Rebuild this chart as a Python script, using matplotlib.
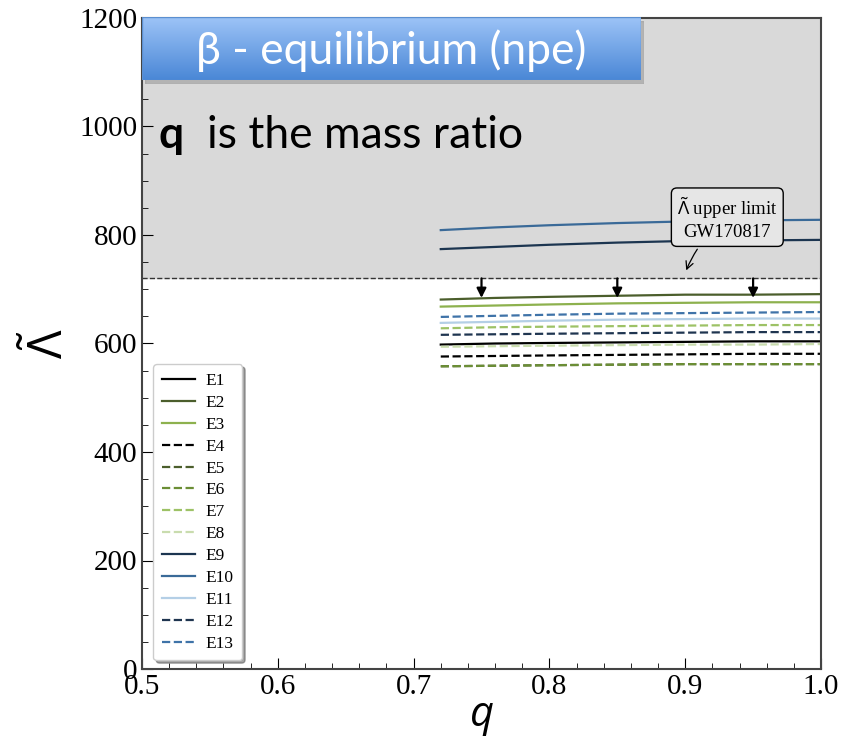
import matplotlib.pyplot as plt
import numpy as np
from matplotlib.patches import Rectangle

plt.rcParams['font.family'] = ['Liberation Serif', 'DejaVu Serif']
plt.rcParams['mathtext.fontset'] = 'custom'
plt.rcParams['mathtext.rm'] = 'Open Sans'
plt.rcParams['mathtext.it'] = 'Open Sans:italic'

# mass ratio grid and tidal deformability per EoS
q = [0.72, 0.76, 0.80, 0.85, 0.90, 0.95, 1.00]
E1 = [598, 600, 601, 602, 603, 604, 604]
E2 = [681, 684, 686, 688, 690, 690, 691]
E3 = [668, 670, 672, 674, 675, 676, 676]
E4 = [576, 577, 578, 579, 580, 581, 581]
E5 = [558, 559, 560, 561, 562, 562, 562]
E6 = [558, 559, 560, 561, 562, 562, 562]
E7 = [628, 630, 631, 632, 633, 634, 634]
E8 = [594, 595, 596, 597, 598, 598, 599]
E9 = [774, 778, 782, 786, 789, 790, 791]
E10 = [809, 814, 818, 822, 825, 827, 828]
E11 = [638, 640, 642, 644, 645, 646, 646]
E12 = [616, 617, 618, 619, 620, 621, 621]
E13 = [649, 651, 653, 655, 656, 657, 658]

labels = ['E1', 'E2', 'E3', 'E4', 'E5', 'E6', 'E7', 'E8', 'E9', 'E10', 'E11', 'E12', 'E13']
curves = [E1, E2, E3, E4, E5, E6, E7, E8, E9, E10, E11, E12, E13]
colors = ['#000000', '#4b5e2c', '#8db14e', '#000000', '#4b5e2c', '#6b8e35',
          '#9dc266', '#c9dcae', '#1c3550', '#3a6a98', '#b4cfe6', '#1f3550', '#3f73a8']
styles = ['-', '-', '-', '--', '--', '--', '--', '--', '-', '-', '-', '--', '--']

lam_limit = 720
arrow_q = [0.75, 0.85, 0.95]

fig = plt.figure(figsize=(8.5, 7.45), dpi=100)
ax = fig.add_axes([142/850, 1-669/745, 679/850, 651/745])

ax.axhspan(lam_limit, 1200, color='#d9d9d9', zorder=0)
ax.axhline(lam_limit, color='#333333', ls='--', lw=1.0, zorder=1)

for y, lab, c, ls in zip(curves, labels, colors, styles):
    ax.plot(q, y, color=c, ls=ls, lw=1.6, label=lab)

for qa in arrow_q:
    ax.annotate('', xy=(qa, 684), xytext=(qa, lam_limit),
                arrowprops=dict(arrowstyle='-|>', color='k', lw=1.6,
                                mutation_scale=14, shrinkA=0, shrinkB=0))

ax.annotate(r'$\tilde{\Lambda}$' + ' upper limit\nGW170817', xy=(0.9, 730), xytext=(0.931, 831),
            ha='center', va='center', fontsize=13.5,
            bbox=dict(boxstyle='round,pad=0.3', fc='#e6e6e6', ec='k', lw=1),
            arrowprops=dict(arrowstyle='->', color='k', lw=0.9,
                            connectionstyle='arc3,rad=0.15'))

ax.set_xlim(0.5, 1.0)
ax.set_ylim(0, 1200)
ax.set_xticks([0.5, 0.6, 0.7, 0.8, 0.9, 1.0])
ax.set_xticks(np.arange(0.5, 1.0, 0.02), minor=True)
ax.set_yticks([0, 200, 400, 600, 800, 1000, 1200])
ax.set_yticks(np.arange(0, 1200, 50), minor=True)
ax.tick_params(which='both', direction='in', labelsize=21)
ax.tick_params(which='major', length=8)
ax.tick_params(which='minor', length=4)
for s in ax.spines.values():
    s.set_color('#444444')
    s.set_linewidth(1.5)

ax.set_xlabel('$q$', fontsize=30, labelpad=0)
ax.set_ylabel(r'$\tilde{\Lambda}$', fontsize=34, labelpad=4)

leg = ax.legend(loc='lower left', bbox_to_anchor=(0.004, 0.0), fontsize=12.5,
                frameon=True, fancybox=True, shadow=True, handlelength=1.9,
                handletextpad=0.6, labelspacing=0.33, borderpad=0.5)
leg.get_frame().set_edgecolor('#cccccc')

ax.text(0.025, 0.82, 'q', transform=ax.transAxes, fontsize=32, fontweight='bold',
        family='Lato', va='center')
ax.text(0.095, 0.82, 'is the mass ratio', transform=ax.transAxes, fontsize=32,
        family='Lato', va='center')

# title banner with gradient
bx0, by0, bw, bh = 142/850, 1-80/745, 499/850, 63/745
sh = fig.add_axes([bx0 + 0.004, by0 - 0.006, bw, bh])
sh.add_patch(Rectangle((0, 0), 1, 1, color='#9a9a9a', alpha=0.6))
sh.set_xlim(0, 1); sh.set_ylim(0, 1); sh.axis('off')
bax = fig.add_axes([bx0, by0, bw, bh])
grad = np.linspace(0, 1, 100).reshape(-1, 1)
top = np.array([0.62, 0.77, 0.97])
bot = np.array([0.29, 0.53, 0.84])
img = top[None, None, :] * (1 - grad[:, :, None]) + bot[None, None, :] * grad[:, :, None]
bax.imshow(img, aspect='auto', extent=(0, 1, 0, 1))
bax.add_patch(Rectangle((0, 0), 1, 1, fill=False, ec='#5b8fd0', lw=1))
bax.set_xlim(0, 1); bax.set_ylim(0, 1); bax.axis('off')
bax.text(0.5, 0.47, 'β - equilibrium (npe)', color='white', fontsize=32,
         family='Lato', ha='center', va='center')

fig.savefig('out.png', dpi=100)
